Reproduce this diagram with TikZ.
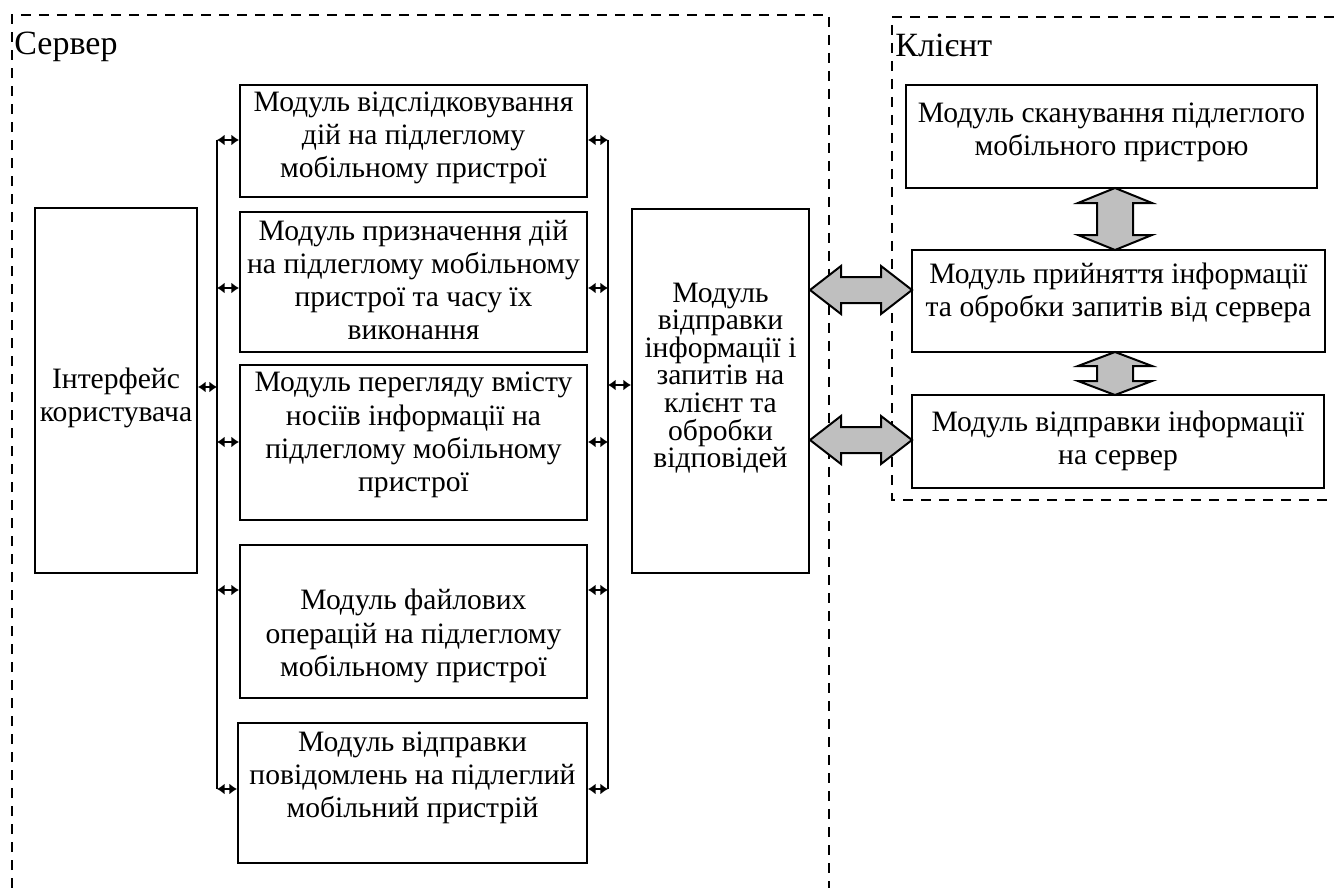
\documentclass[tikz,border=0pt]{standalone}
\usepackage{fontspec}
\setmainfont{Liberation Serif}
\usetikzlibrary{arrows.meta,calc}
\tikzset{
  boxnode/.style={draw=black, line width=1pt, inner sep=0pt},
  txt/.style={align=center, font=\fontsize{14.8pt}{16.6pt}\selectfont, inner sep=0pt},
  txtctr/.style={align=center, font=\fontsize{14.8pt}{13.8pt}\selectfont, inner sep=0pt},
  bus/.style={line width=0.9pt},
  link/.style={line width=1pt, {Latex[length=3.8pt,width=5.5pt]}-{Latex[length=3.8pt,width=5.5pt]}},
  frame/.style={line width=1.4pt, dash pattern=on 5pt off 4pt},
  blockarrow/.style={draw=black, line width=1pt, fill=black!25, line join=miter},
  title/.style={anchor=west, inner sep=0pt, font=\fontsize{17pt}{19pt}\selectfont}
}
\newcommand\harrowblock[3]{% x1, x2, y
  \filldraw[blockarrow] (#1,#3) -- ({#1+31},{#3-24}) -- ({#1+31},{#3-13}) -- ({#2-31},{#3-13}) -- ({#2-31},{#3-24}) -- (#2,#3)
    -- ({#2-31},{#3+24}) -- ({#2-31},{#3+13}) -- ({#1+31},{#3+13}) -- ({#1+31},{#3+24}) -- cycle;}
\newcommand\varrowblock[4]{% x, y1, y2, head length
  \filldraw[blockarrow] (#1,#2) -- ({#1+37},{#2+#4}) -- ({#1+18},{#2+#4}) -- ({#1+18},{#3-#4}) -- ({#1+37},{#3-#4}) -- (#1,#3)
    -- ({#1-37},{#3-#4}) -- ({#1-18},{#3-#4}) -- ({#1-18},{#2+#4}) -- ({#1-37},{#2+#4}) -- cycle;}
\begin{document}
\begin{tikzpicture}[x=0.5pt,y=-0.5pt]
\useasboundingbox (0,0) rectangle (1334,888);
% frames
\draw[frame] (12,888) -- (12,15) -- (829,15) -- (829,888);
\draw[frame] (1334,17) -- (892,17) -- (892,500) -- (1334,500);
\node[title] (srv) at (14,47) {Сервер};
\node[title] (cli) at (895,45) {Клієнт};
% server boxes
\node[boxnode, minimum width=81pt, minimum height=182.5pt] (int) at (116,390.5) {};
\node[txt] (tint) at (116,398) {Інтерфейс\\користувача};
\node[boxnode, minimum width=173.5pt, minimum height=56pt] (b1) at (413.5,141) {};
\node[txt] (t1) at (413.5,138) {Модуль відслідковування\\дій на підлеглому\\мобільному пристрої};
\node[boxnode, minimum width=173.5pt, minimum height=70pt] (b2) at (413.5,282) {};
\node[txt] (t2) at (413.5,280) {Модуль призначення дій\\на підлеглому мобільному\\пристрої та часу їх\\виконання};
\node[boxnode, minimum width=173.5pt, minimum height=77.5pt] (b3) at (413.5,442.5) {};
\node[txt] (t3) at (413.5,435) {Модуль перегляду вмісту\\носіїв інформації на\\підлеглому мобільному\\пристрої};
\node[boxnode, minimum width=173.5pt, minimum height=76.5pt] (b4) at (413.5,621.5) {};
\node[txt] (t4) at (413.5,636) {Модуль файлових\\операцій на підлеглому\\мобільному пристрої};
\node[boxnode, minimum width=174.5pt, minimum height=70pt] (b5) at (412.5,793) {};
\node[txt] (t5) at (412.5,778) {Модуль відправки\\повідомлень на підлеглий\\мобільний пристрій};
\node[boxnode, minimum width=88.5pt, minimum height=182pt] (ctr) at (720.5,391) {};
\node[txtctr] (tctr) at (720.5,378) {Модуль\\відправки\\інформації і\\запитів на\\клієнт та\\обробки\\відповідей};
% client boxes
\node[boxnode, minimum width=205.5pt, minimum height=51.5pt] (ca) at (1111.5,136.5) {};
\node[txt] (tca) at (1111.5,132) {Модуль сканування підлеглого\\мобільного пристрою};
\node[boxnode, minimum width=206.5pt, minimum height=51pt] (cb) at (1118.5,301) {};
\node[txt] (tcb) at (1118.5,293) {Модуль прийняття інформації\\та обробки запитів від сервера};
\node[boxnode, minimum width=206pt, minimum height=46.5pt] (cc) at (1118,441.5) {};
\node[txt] (tcc) at (1118,441) {Модуль відправки інформації\\на сервер};
% buses
\coordinate (lt) at (217,140);
\coordinate (lb) at (217,789);
\coordinate (rt) at (608,140);
\coordinate (rb) at (608,789);
\draw[bus] (lt) -- (lb);
\draw[bus] (rt) -- (rb);
\draw[link] (int.east |- 0,387) -- (lt |- 0,387);
\draw[link] (rt |- 0,385) -- (ctr.west |- 0,385);
\foreach \b/\y in {b1/140, b2/288, b3/442, b4/590, b5/789}{
  \draw[link] (lt |- 0,\y) -- (\b.west |- 0,\y);
  \draw[link] (\b.east |- 0,\y) -- (rt |- 0,\y);
}
% block arrows
\harrowblock{810}{912}{290}
\harrowblock{810}{912}{440}
\varrowblock{1115}{188}{250}{15}
\varrowblock{1115}{352}{395}{14}
\end{tikzpicture}
\end{document}
